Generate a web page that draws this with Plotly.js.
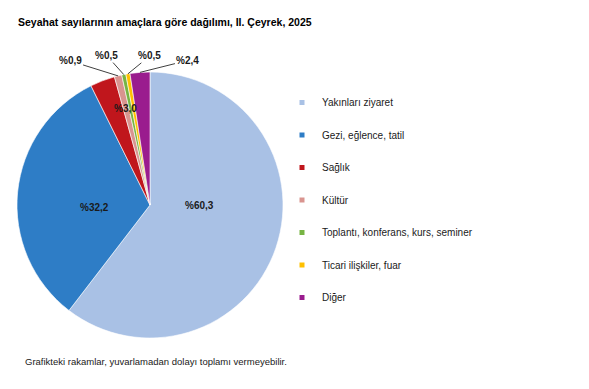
<!DOCTYPE html>
<html><head><meta charset="utf-8">
<script src="https://cdn.plot.ly/plotly-3.0.1.min.js"></script>
<style>html,body{margin:0;padding:0;background:#fff}</style>
</head><body>
<div id="chart" style="width:589px;height:389px"></div>
<script>
const categories = ["Yakınları ziyaret","Gezi, eğlence, tatil","Sağlık","Kültür","Toplantı, konferans, kurs, seminer","Ticari ilişkiler, fuar","Diğer"];
const values = [60.3, 32.2, 3.0, 0.9, 0.5, 0.5, 2.4];
const colors = ["#A9C1E5","#2E7DC6","#C0161C","#D9948F","#77B443","#FFC000","#9A1C8E"];
const title = "Seyahat sayılarının amaçlara göre dağılımı, II. Çeyrek, 2025";
const note = "Grafikteki rakamlar, yuvarlamadan dolayı toplamı vermeyebilir.";

const W = 589, H = 389;
const cx = 150, cy = 205, R = 133;
const FONT = "Liberation Sans, Arial, sans-serif";
const fmt = v => "%" + v.toFixed(1).replace(".", ",");
const labels = values.map(fmt);
const total = values.reduce((a,b)=>a+b,0);

const pie = {
  type: "pie", values: values, labels: categories, text: labels,
  textinfo: "none",
  marker: {colors: colors, line: {color: "#ffffff", width: 0.6}},
  sort: false, direction: "clockwise", rotation: 0,
  domain: {x: [(cx-R)/W, (cx+R)/W], y: [1-(cy+R)/H, 1-(cy-R)/H]},
  showlegend: false, hoverinfo: "label+text"
};

const legendTraces = categories.map((c,i)=>({
  type: "scatter", mode: "markers", x: [null], y: [null], name: c,
  legendgroup: "g"+i, marker: {symbol: "square", size: 5, color: colors[i]},
  showlegend: true, hoverinfo: "skip"
}));

// slice mid points for leader lines
const cum = [];
values.reduce((acc,v,i)=>{cum[i]=acc+v/2; return acc+v;}, 0);
function pt(i, rf){
  const th = 2*Math.PI*cum[i]/total;
  const px = cx + rf*R*Math.sin(th), py = cy - rf*R*Math.cos(th);
  return {x: px/W, y: 1-py/H};
}
const annFont = {family: FONT, size: 10, color: "#1a1a1a", weight: "bold"};
const anns = [];
// label placement (pixels) for inside labels
const insidePos = {0: [199,205], 1: [78,207], 2: [112,101]};
Object.keys(insidePos).forEach(k=>{
  const i = +k, p = insidePos[k];
  anns.push({x:p[0]/W, y:1-p[1]/H, xref:"paper", yref:"paper", text: labels[i], showarrow:false, font: annFont});
});
// outside labels with leader lines (pixel offsets from slice edge)
const offs = {3: [-48,-15], 4: [-17,-19], 5: [22,-18], 6: [48,-12]};
Object.keys(offs).forEach(k=>{
  const i = +k, p = pt(i, 1.0);
  anns.push({x:p.x, y:p.y, xref:"paper", yref:"paper", text: labels[i], showarrow:true,
    arrowhead:0, arrowwidth:1, arrowcolor:"#404040", ax: offs[k][0], ay: offs[k][1],
    standoff: 0, font: annFont});
});
anns.push({x: 23/W, y: 1-361/H, xref:"paper", yref:"paper", xanchor:"left", yanchor:"middle",
  text: note, showarrow:false, font:{family: FONT, size:9.5, color:"#1a1a1a"}});

const layout = {
  width: W, height: H, margin: {l:0,r:0,t:0,b:0},
  paper_bgcolor: "#ffffff", plot_bgcolor: "#ffffff",
  title: {text: "<b>"+title+"</b>", x: 18/W, xanchor: "left", xref: "paper", y: 1-22/H, yanchor: "middle", yref: "paper",
    font: {family: FONT, size: 10.5, color: "#000"}},
  xaxis: {visible: false}, yaxis: {visible: false},
  showlegend: true,
  legend: {x: 282/W, xanchor: "left", y: 1-88/H, yanchor: "top", tracegroupgap: 13.5,
    font: {family: FONT, size: 10, color: "#1a1a1a"}, bgcolor: "rgba(0,0,0,0)"},
  annotations: anns
};
Plotly.newPlot("chart", [pie].concat(legendTraces), layout, {displayModeBar: false, staticPlot: true});
</script>
</body></html>
